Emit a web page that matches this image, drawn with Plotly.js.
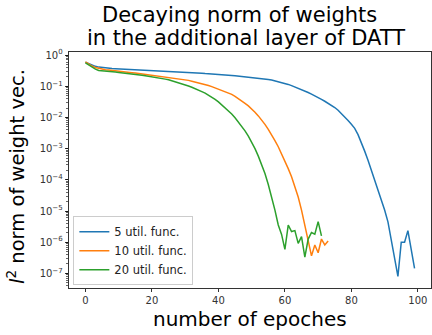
<!DOCTYPE html>
<html>
<head>
<meta charset="utf-8">
<script src="https://cdn.plot.ly/plotly-3.0.1.min.js"></script>
<style>html,body{margin:0;padding:0;background:#fff;}#chart{width:432px;height:335px;}</style>
</head>
<body>
<div id="chart"></div>
<script>
// log10 of the weight-vector norm per epoch
const log5 = [-0.23,-0.28,-0.32,-0.36,-0.385,-0.40,-0.41,-0.42,-0.43,-0.435,
  -0.44,-0.45,-0.455,-0.46,-0.465,-0.47,-0.48,-0.485,-0.49,-0.495,
  -0.50,-0.505,-0.51,-0.515,-0.52,-0.53,-0.535,-0.54,-0.545,-0.55,
  -0.555,-0.56,-0.565,-0.57,-0.575,-0.58,-0.59,-0.595,-0.60,-0.61,
  -0.615,-0.62,-0.63,-0.64,-0.65,-0.66,-0.67,-0.68,-0.69,-0.70,
  -0.71,-0.72,-0.735,-0.75,-0.765,-0.78,-0.80,-0.825,-0.855,-0.88,
  -0.91,-0.94,-0.98,-1.02,-1.07,-1.11,-1.155,-1.20,-1.25,-1.30,
  -1.36,-1.42,-1.48,-1.54,-1.60,-1.68,-1.77,-1.87,-1.98,-2.10,
  -2.22,-2.35,-2.55,-2.80,-3.08,-3.37,-3.68,-4.00,-4.33,-4.65,
  -4.97,-5.35,-5.9,-6.5,-7.1,-6.0,-6.0,-5.63,-6.23,-6.84];
const log10u = [-0.22,-0.29,-0.35,-0.40,-0.43,-0.45,-0.47,-0.48,-0.495,-0.51,
  -0.52,-0.53,-0.545,-0.555,-0.565,-0.575,-0.59,-0.60,-0.61,-0.625,
  -0.635,-0.65,-0.66,-0.675,-0.69,-0.705,-0.72,-0.735,-0.75,-0.77,
  -0.79,-0.81,-0.835,-0.86,-0.885,-0.91,-0.94,-0.975,-1.01,-1.05,
  -1.09,-1.13,-1.17,-1.21,-1.26,-1.32,-1.39,-1.47,-1.55,-1.63,
  -1.72,-1.83,-1.95,-2.08,-2.22,-2.38,-2.55,-2.74,-2.94,-3.16,
  -3.39,-3.64,-3.90,-4.2,-4.55,-4.97,-5.45,-5.95,-6.44,-6.09,
  -6.34,-5.9,-6.09,-5.96];
const log20 = [-0.25,-0.32,-0.39,-0.45,-0.49,-0.505,-0.515,-0.525,-0.535,-0.545,
  -0.555,-0.565,-0.575,-0.59,-0.60,-0.615,-0.63,-0.645,-0.66,-0.675,
  -0.69,-0.71,-0.73,-0.75,-0.77,-0.79,-0.82,-0.85,-0.88,-0.91,
  -0.95,-0.99,-1.03,-1.07,-1.12,-1.17,-1.22,-1.28,-1.35,-1.42,
  -1.50,-1.59,-1.68,-1.78,-1.89,-2.01,-2.14,-2.28,-2.43,-2.60,
  -2.79,-3.00,-3.24,-3.50,-3.80,-4.15,-4.55,-4.97,-5.45,-5.75,
  -6.23,-5.45,-5.66,-5.63,-6.04,-5.82,-6.48,-5.9,-5.69,-5.74,
  -5.34,-5.8];
const seriesNames = ['5 util. func.', '10 util. func.', '20 util. func.'];
const seriesColors = ['#1f77b4', '#ff7f0e', '#2ca02c'];
const yTickExp = [0, -1, -2, -3, -4, -5, -6, -7];
const yTickText = yTickExp.map(e => '10<sup>' + (e < 0 ? '\u2212' + (-e) : e) + '</sup>');
const xTicks = [0, 20, 40, 60, 80, 100];

const allLogs = [log5, log10u, log20];
const traces = allLogs.map((arr, i) => ({
  x: arr.map((_, k) => k),
  y: arr.map(v => Math.pow(10, v)),
  type: 'scatter', mode: 'lines',
  name: seriesNames[i],
  line: {color: seriesColors[i], width: 1.5}
}));

const F = 'DejaVu Sans, sans-serif';
const layout = {
  width: 432, height: 335,
  margin: {l: 69, r: 1, t: 52, b: 47},
  paper_bgcolor: '#fff', plot_bgcolor: '#fff',
  font: {family: F, size: 10, color: '#222'},
  showlegend: true,
  legend: {x: 0.012, y: 0.012, xanchor: 'left', yanchor: 'bottom',
    bgcolor: 'rgba(255,255,255,0.8)', bordercolor: '#cccccc', borderwidth: 1,
    font: {family: F, size: 11.5, color: '#222'}, tracegroupgap: 0},
  xaxis: {range: [-4.95, 103.95], tickvals: xTicks, ticks: 'outside', ticklen: 3.5,
    tickwidth: 0.8, tickcolor: '#000', showline: true, mirror: true, linecolor: '#000',
    linewidth: 0.8, showgrid: false, zeroline: false, tickfont: {family: F, size: 10, color: '#333'}},
  yaxis: {type: 'log', range: [-7.47, 0.1], tickvals: yTickExp.map(e => Math.pow(10, e)),
    ticktext: yTickText, ticks: 'outside', ticklen: 3.5, tickwidth: 0.8, tickcolor: '#000',
    showline: true, mirror: true, linecolor: '#000', linewidth: 0.8, showgrid: false,
    zeroline: false, tickfont: {family: F, size: 10, color: '#333'},
    minor: {ticks: 'outside', ticklen: 2, tickwidth: 0.6, tickcolor: '#000', dtick: 'D1', showgrid: false}},
  annotations: [
    {text: 'Decaying norm of weights', xref: 'paper', yref: 'paper', x: 0.472, y: 1,
      xanchor: 'center', yanchor: 'middle', yshift: 37, showarrow: false,
      font: {family: F, size: 21, color: '#000'}},
    {text: 'in the additional layer of DATT', xref: 'paper', yref: 'paper', x: 0.489, y: 1,
      xanchor: 'center', yanchor: 'middle', yshift: 14, showarrow: false,
      font: {family: F, size: 21, color: '#000'}},
    {text: 'number of epoches', xref: 'paper', yref: 'paper', x: 0.5, y: 0,
      xanchor: 'center', yanchor: 'middle', yshift: -31, showarrow: false,
      font: {family: F, size: 20, color: '#000'}},
    {text: '<i>l</i><sup>2</sup> norm of weight vec.', xref: 'paper', yref: 'paper', x: 0, y: 0.5,
      xanchor: 'center', yanchor: 'middle', xshift: -53, yshift: -7, textangle: -90, showarrow: false,
      font: {family: F, size: 19.5, color: '#000'}}
  ]
};
Plotly.newPlot('chart', traces, layout, {displayModeBar: false, staticPlot: true});
</script>
</body>
</html>
